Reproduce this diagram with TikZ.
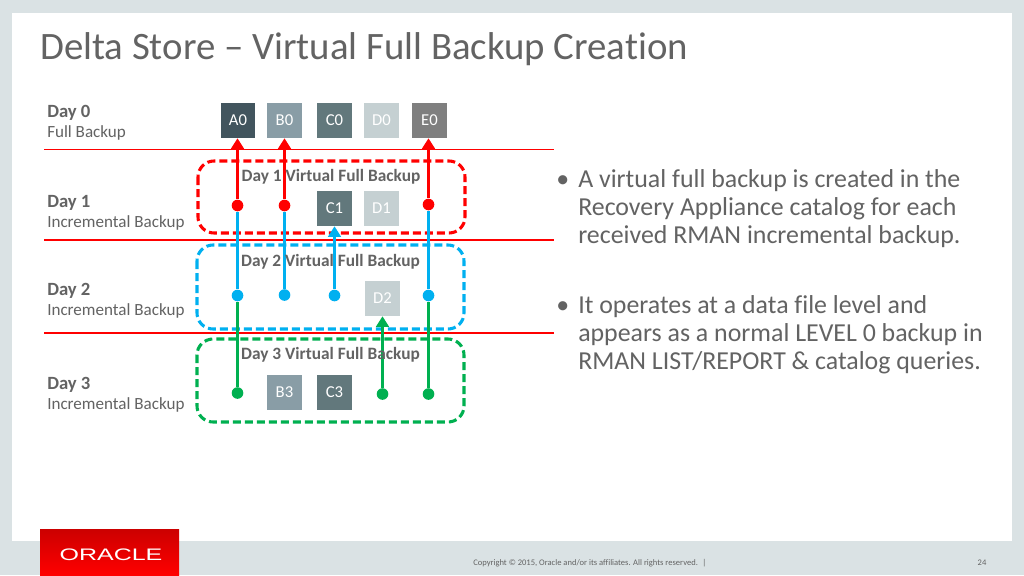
\documentclass[tikz,border=0pt]{standalone}
\usepackage{fontspec}
\setmainfont[Ligatures=NoCommon]{Carlito}
\newfontfamily\logofont{Liberation Sans}
\usetikzlibrary{arrows.meta}
\definecolor{bg}{HTML}{DAE2E4}
\definecolor{txt}{HTML}{636363}
\definecolor{rd}{HTML}{FF0000}
\definecolor{bl}{HTML}{00B0F0}
\definecolor{gn}{HTML}{00B050}
\tikzset{
  block/.style={minimum width=26.2pt,minimum height=26.2pt,inner sep=0pt,text=white,font=\fontsize{12.5}{14}\selectfont},
  daylabel/.style={anchor=west,align=left,inner sep=0pt,text=txt,font=\fontsize{12.8}{15}\selectfont},
  vftitle/.style={inner sep=0pt,text=txt,font=\bfseries\fontsize{13}{15}\selectfont},
  sep/.style={draw=rd,line width=0.9pt},
  zone/.style={rounded corners=12pt,dash pattern=on 6pt off 3pt,line width=2.3pt},
  dot/.style={circle,inner sep=0pt,minimum size=8.7pt},
  link/.style={line width=2.7pt,-{Triangle[length=8pt,width=9.5pt]}},
  plain/.style={line width=2.7pt},
  bullet/.style={anchor=north west,align=left,inner sep=0pt,text=txt,font=\fontsize{19.4}{21}\selectfont}
}
\newcommand{\dayhead}[1]{{\bfseries\fontsize{14}{15}\selectfont #1}}
\begin{document}
\begin{tikzpicture}[x=0.75pt,y=-0.75pt]
\useasboundingbox (0,0) rectangle (1024,575);
\fill[bg] (0,0) rectangle (1024,575);
\fill[white] (12,13) rectangle (1012,541);
\fill[top color=rd!80!black,bottom color=rd] (40,529) rectangle (179,575);
\node[text=white,inner sep=0pt,xscale=1.5,font=\logofont\fontsize{12.5}{14}\selectfont] (logo) at (111,554.5) {ORACLE};
\node[anchor=west,inner sep=0pt,text=txt,font=\fontsize{29.1}{32}\selectfont] (title) at (40,49.5) {Delta Store – Virtual Full Backup Creation};
% separators
\coordinate (s1a) at (44,149.5); \coordinate (s1b) at (554,149.5);
\coordinate (s2a) at (44,240); \coordinate (s2b) at (554,240);
\coordinate (s3a) at (44,333); \coordinate (s3b) at (554,333);
\draw[sep] (s1a) -- (s1b);
\draw[sep] (s2a) -- (s2b);
\draw[sep] (s3a) -- (s3b);
% day labels
\node[daylabel] (d0) at (47,122.5) {\dayhead{Day 0}\\Full Backup};
\node[daylabel] (d1) at (47,213) {\dayhead{Day 1}\\Incremental Backup};
\node[daylabel] (d2) at (47,301) {\dayhead{Day 2}\\Incremental Backup};
\node[daylabel] (d3) at (47,395) {\dayhead{Day 3}\\Incremental Backup};
% zones
\draw[zone,draw=rd] (198,161) rectangle (465,233);
\draw[zone,draw=bl] (197,245) rectangle (464,329);
\draw[zone,draw=gn] (197,339) rectangle (464,422);
% blocks
\node[block,fill={rgb,255:red,66;green,85;blue,94}] (a0) at (238,120.5) {A0};
\node[block,fill={rgb,255:red,137;green,157;blue,166}] (b0) at (284.5,120.5) {B0};
\node[block,fill={rgb,255:red,98;green,120;blue,124}] (c0) at (334.5,120.5) {C0};
\node[block,fill={rgb,255:red,197;green,208;blue,210}] (d0b) at (381.5,120.5) {D0};
\node[block,fill={rgb,255:red,127;green,127;blue,127}] (e0) at (429.5,120.5) {E0};
\node[block,fill={rgb,255:red,98;green,120;blue,124}] (c1) at (334.5,208.5) {C1};
\node[block,fill={rgb,255:red,197;green,208;blue,210}] (d1b) at (381.5,208.5) {D1};
\node[block,fill={rgb,255:red,197;green,208;blue,210}] (d2b) at (382.5,298.5) {D2};
\node[block,fill={rgb,255:red,137;green,157;blue,166}] (b3) at (284.5,392.5) {B3};
\node[block,fill={rgb,255:red,98;green,120;blue,124}] (c3) at (334.5,392.5) {C3};
% dots
\node[dot,fill=gn] (g1) at (237.5,393) {};
\node[dot,fill=gn] (g4) at (382.5,394) {};
\node[dot,fill=gn] (g5) at (428.5,394) {};
\node[dot,fill=bl] (b1) at (237.5,295.5) {};
\node[dot,fill=bl] (b2) at (284.5,295) {};
\node[dot,fill=bl] (b33) at (334.5,295.5) {};
\node[dot,fill=bl] (b5) at (428.5,295.5) {};
\node[dot,fill=rd] (r1) at (237.5,205.5) {};
\node[dot,fill=rd] (r2) at (284.5,205.5) {};
\node[dot,fill=rd] (r5) at (428.5,204.5) {};
% connectors
\draw[plain,gn] (g1) -- (b1);
\draw[plain,gn] (g5) -- (b5);
\draw[link,gn] (g4) -- (g4 |- d2b.south);
\draw[plain,bl] (b1) -- (r1);
\draw[plain,bl] (b2) -- (r2);
\draw[plain,bl] (b5) -- (r5);
\draw[link,bl] (b33) -- (c1);
\draw[link,rd] (r1) -- (r1 |- a0.south);
\draw[link,rd] (r2) -- (r2 |- b0.south);
\draw[link,rd] (r5) -- (r5 |- e0.south);
% zone titles
\node[vftitle] (t1) at (331,176.5) {Day 1 Virtual Full Backup};
\node[vftitle] (t2) at (330.5,261.5) {Day 2 Virtual Full Backup};
\node[vftitle] (t3) at (330.5,354.5) {Day 3 Virtual Full Backup};
% bullets
\node[bullet] (p1) at (556,168) {\strut •};
\node[bullet] (p1t) at (578,168) {\strut A virtual full backup is created in the\\Recovery Appliance catalog for each\\received RMAN incremental backup.};
\node[bullet] (p2) at (556,294) {\strut •};
\node[bullet] (p2t) at (578,294) {\strut It operates at a data file level and\\appears as a normal LEVEL 0 backup in\\RMAN LIST/REPORT \& catalog queries.};
% footer
\node[anchor=west,inner sep=0pt,text=txt,font=\fontsize{6.4}{7}\selectfont] (copy) at (473,563) {Copyright © 2015, Oracle and/or its affiliates. All rights reserved. \ |};
\node[inner sep=0pt,text=txt,font=\fontsize{6.4}{7}\selectfont] (pg) at (982,563) {24};
\end{tikzpicture}
\end{document}
